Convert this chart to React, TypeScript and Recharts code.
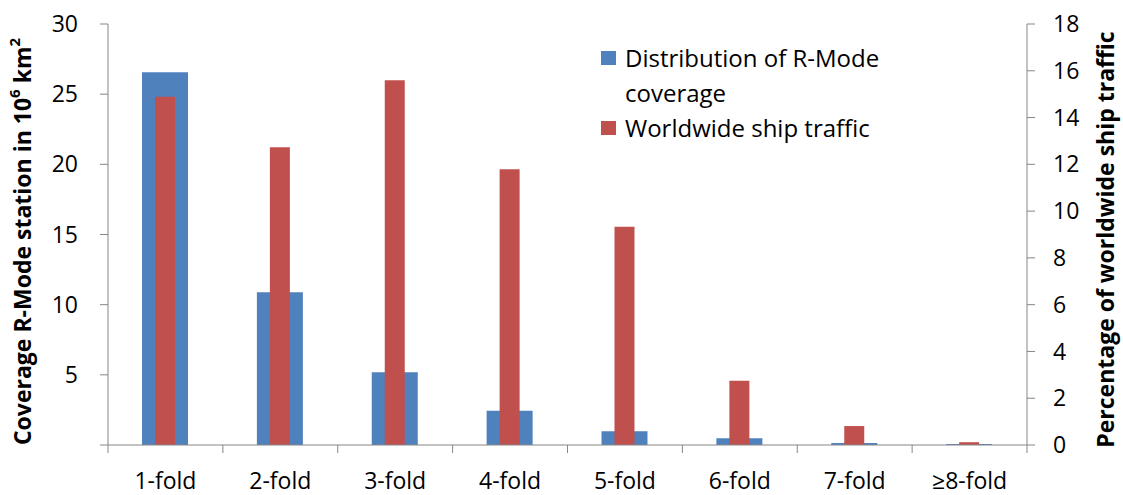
import React from "react";
import { BarChart, Bar, XAxis, YAxis } from "recharts";

const categories = ["1-fold", "2-fold", "3-fold", "4-fold", "5-fold", "6-fold", "7-fold", "≥8-fold"];
const coverage = [26.56, 10.88, 5.18, 2.44, 0.98, 0.48, 0.14, 0.07];
const traffic = [14.89, 12.73, 15.6, 11.79, 9.33, 2.75, 0.81, 0.12];
const leftTicks = [0, 5, 10, 15, 20, 25, 30];
const rightTicks = [0, 2, 4, 6, 8, 10, 12, 14, 16, 18];

const BLUE = "#4F81BD";
const RED = "#C0504D";
const AXIS = "#868686";
const FONT = "'Open Sans', sans-serif";

const W = 1123;
const H = 495;
const PLOT_LEFT = 108;
const PLOT_RIGHT = 1027;
const PLOT_TOP = 24;
const PLOT_BOTTOM = 445;
const BAND = (PLOT_RIGHT - PLOT_LEFT) / categories.length;

const data = categories.map((c, i) => ({
  cat: c,
  coverage: coverage[i],
  traffic: traffic[i],
}));

// category ticks sit on the band edges, labels in the middle
function CatTick(props: any) {
  const { x, y, payload, index } = props;
  const left = x - BAND / 2;
  return (
    <g>
      <line x1={left} y1={PLOT_BOTTOM} x2={left} y2={PLOT_BOTTOM + 8} stroke={AXIS} strokeWidth={1} />
      {index === categories.length - 1 && (
        <line
          x1={left + BAND}
          y1={PLOT_BOTTOM}
          x2={left + BAND}
          y2={PLOT_BOTTOM + 8}
          stroke={AXIS}
          strokeWidth={1}
        />
      )}
      <text x={x} y={PLOT_BOTTOM + 44} textAnchor="middle" fontSize={23} fontFamily={FONT} fill="#000">
        {payload.value}
      </text>
    </g>
  );
}

function LeftTitle(props: any) {
  const { viewBox } = props;
  const cy = viewBox.y + viewBox.height / 2 + 7;
  const cx = 25;
  return (
    <text
      x={cx}
      y={cy}
      transform={`rotate(-90 ${cx} ${cy})`}
      textAnchor="middle"
      dominantBaseline="middle"
      fontSize={23}
      fontWeight="bold"
      fontFamily={FONT}
      fill="#000"
    >
      Coverage R-Mode station in 10
      <tspan dy={-9} fontSize={15}>6</tspan>
      <tspan dy={9}> km</tspan>
      <tspan dy={-9} fontSize={15}>2</tspan>
    </text>
  );
}

function RightTitle(props: any) {
  const { viewBox } = props;
  const cy = viewBox.y + viewBox.height / 2 + 5;
  const cx = 1108;
  return (
    <text
      x={cx}
      y={cy}
      transform={`rotate(-90 ${cx} ${cy})`}
      textAnchor="middle"
      dominantBaseline="middle"
      fontSize={23}
      fontWeight="bold"
      fontFamily={FONT}
      fill="#000"
    >
      Percentage of worldwide ship traffic
    </text>
  );
}

function LegendBox() {
  const row = (color: string, lines: string[]) => (
    <div style={{ display: "flex", alignItems: "flex-start" }}>
      <div style={{ width: 15, height: 14, background: color, marginTop: 11, marginRight: 9, flexShrink: 0 }} />
      <div>
        {lines.map((l) => (
          <div key={l} style={{ lineHeight: "35px", height: 35, whiteSpace: "nowrap" }}>
            {l}
          </div>
        ))}
      </div>
    </div>
  );
  return (
    <div
      style={{
        position: "absolute",
        left: 601,
        top: 40,
        fontFamily: FONT,
        fontSize: 24,
        color: "#000",
        pointerEvents: "none",
      }}
    >
      {row(BLUE, ["Distribution of R-Mode", "coverage"])}
      {row(RED, ["Worldwide ship traffic"])}
    </div>
  );
}

export default function App() {
  return (
    <div style={{ position: "fixed", left: 0, top: 0, width: W, height: H, background: "#fff" }}>
      <BarChart
        width={W}
        height={H}
        data={data}
        margin={{ top: PLOT_TOP, right: 0, bottom: 0, left: 0 }}
      >
        <XAxis
          xAxisId="a"
          dataKey="cat"
          stroke={AXIS}
          tickLine={false}
          tick={<CatTick />}
          height={H - PLOT_BOTTOM}
          interval={0}
        />
        <XAxis xAxisId="b" dataKey="cat" hide />
        <YAxis
          yAxisId="left"
          orientation="left"
          width={PLOT_LEFT}
          domain={[0, 30]}
          ticks={leftTicks}
          tickFormatter={(v) => (v === 0 ? "" : String(v))}
          stroke={AXIS}
          tickSize={8}
          tickMargin={22}
          tick={{ fill: "#000", fontSize: 23, fontFamily: FONT }}
          label={<LeftTitle />}
        />
        <YAxis
          yAxisId="right"
          orientation="right"
          width={W - PLOT_RIGHT}
          domain={[0, 18]}
          ticks={rightTicks}
          stroke={AXIS}
          tickSize={8}
          tickMargin={18}
          tick={{ fill: "#000", fontSize: 23, fontFamily: FONT, textAnchor: "start" }}
          label={<RightTitle />}
        />
        <Bar
          xAxisId="a"
          yAxisId="left"
          dataKey="coverage"
          fill={BLUE}
          barSize={46}
          isAnimationActive={false}
        />
        <Bar
          xAxisId="b"
          yAxisId="right"
          dataKey="traffic"
          fill={RED}
          barSize={20}
          isAnimationActive={false}
        />
      </BarChart>
      <LegendBox />
    </div>
  );
}
